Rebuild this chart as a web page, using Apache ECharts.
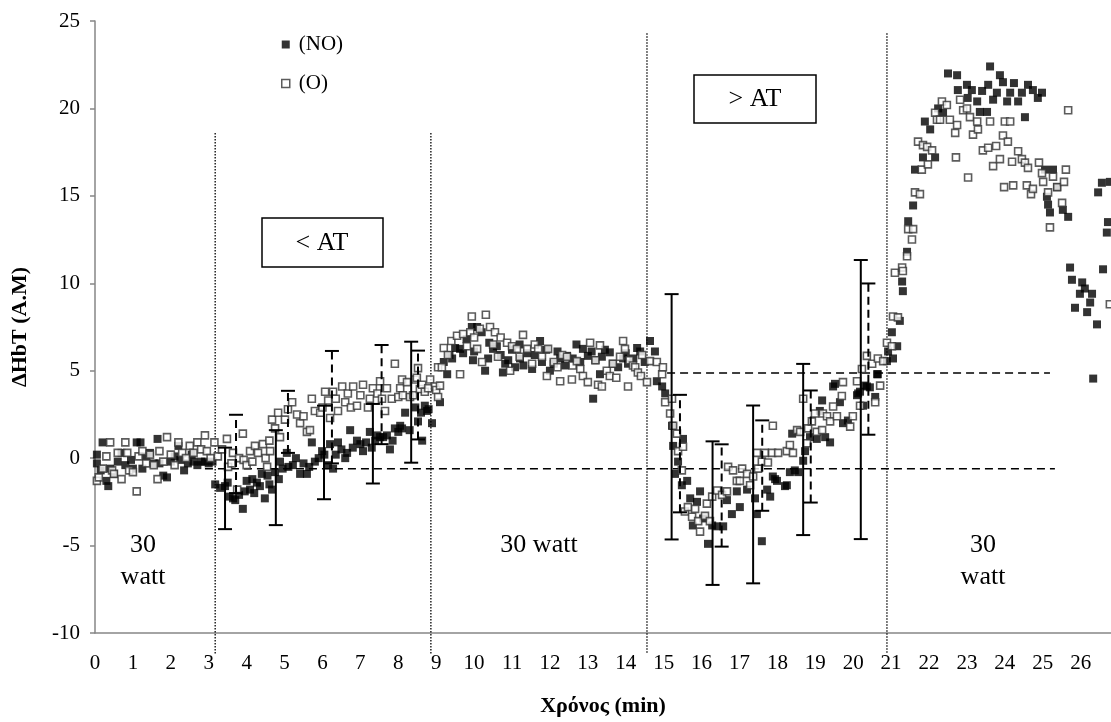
<!DOCTYPE html>
<html>
<head>
<meta charset="utf-8">
<script src="https://cdn.jsdelivr.net/npm/echarts@6/dist/echarts.min.js"></script>
<style>
  html, body { margin: 0; padding: 0; background: #fff; }
  #chart { width: 1111px; height: 722px; }
</style>
</head>
<body>
<div id="chart"></div>
<script>
// ΔHbT vs time, two groups. [min, value]
const noPoints = [
  [0.05,-0.3],[0.05,0.2],[0.15,-0.7],[0.2,0.9],[0.3,-1.3],[0.35,-1.6],[0.4,-0.6],[0.5,-0.9],[0.6,-0.2],[0.7,0.3],
  [0.8,-0.4],[0.95,-0.1],[1.0,-0.6],[1.1,0.9],[1.2,0.9],[1.25,-0.6],[1.35,0.1],[1.45,0.3],[1.55,-0.3],[1.65,1.1],
  [1.7,-0.3],[1.8,-1.0],[1.9,-1.1],[2.0,-0.2],[2.1,0.1],[2.2,0.7],[2.25,-0.1],[2.35,-0.7],[2.45,-0.3],[2.55,0.2],
  [2.6,-0.2],[2.7,-0.4],[2.8,-0.2],[2.9,-0.2],[3.0,-0.3],[3.1,-0.2],
  [3.17,-1.5],[3.3,-1.7],[3.43,-1.6],[3.5,-1.4],[3.55,-2.2],[3.64,-2.3],[3.7,-2.4],[3.8,-2.1],[3.9,-2.9],[3.95,-1.9],
  [4.0,-1.3],[4.09,-1.8],[4.15,-1.2],[4.2,-2.0],[4.27,-1.4],[4.35,-1.6],[4.4,-0.9],[4.48,-2.3],[4.55,-1.0],[4.6,-1.5],
  [4.67,-1.8],[4.75,-0.8],[4.85,-1.2],[4.88,-0.2],[4.95,-0.6],[5.06,0.3],[5.1,-0.5],[5.22,-0.4],[5.3,0.0],[5.41,-0.9],
  [5.5,-0.3],[5.59,-0.9],[5.65,-0.5],[5.72,0.9],[5.8,-0.2],[5.9,0.0],[5.99,0.4],[6.05,0.2],[6.15,-0.4],[6.2,0.8],
  [6.28,-0.6],[6.35,0.2],[6.41,0.9],[6.5,0.5],[6.6,0.0],[6.65,0.3],[6.73,1.6],[6.8,0.6],[6.91,1.0],[7.0,0.8],
  [7.07,0.4],[7.15,0.9],[7.25,1.5],[7.3,0.6],[7.39,1.0],[7.45,1.3],[7.52,1.2],[7.6,1.2],[7.7,1.3],[7.78,0.5],
  [7.85,1.0],[7.91,1.7],[8.0,1.5],[8.05,1.85],[8.1,1.7],[8.18,2.6],[8.3,1.6],[8.45,2.9],[8.52,2.1],[8.6,2.6],
  [8.63,1.0],[8.7,3.0],[8.76,2.7],[8.8,2.8],[8.89,2.0],
  [9.1,3.2],[9.2,5.5],[9.29,4.8],[9.35,5.9],[9.42,5.7],[9.5,6.3],[9.63,6.25],[9.71,6.0],[9.8,6.8],[9.94,7.5],
  [9.97,5.6],[10.0,6.1],[10.08,7.5],[10.2,7.2],[10.29,5.0],[10.37,5.7],[10.4,6.6],[10.5,6.25],[10.6,6.4],[10.7,5.9],
  [10.76,4.9],[10.82,5.4],[10.9,5.6],[11.0,6.2],[11.08,5.2],[11.2,6.5],[11.21,5.7],[11.3,5.3],[11.4,6.0],[11.53,5.1],
  [11.6,5.9],[11.74,6.7],[11.79,5.5],[11.9,6.2],[12.0,5.0],[12.1,5.4],[12.2,6.1],[12.27,5.7],[12.4,5.3],[12.45,5.85],
  [12.6,5.7],[12.7,6.5],[12.8,5.5],[12.87,6.25],[13.0,5.85],[13.1,6.1],[13.14,3.4],[13.2,5.6],[13.32,4.8],[13.37,5.8],
  [13.45,6.2],[13.58,6.05],[13.66,5.4],[13.8,5.2],[13.93,5.7],[14.0,6.0],[14.06,5.4],[14.2,5.7],[14.3,6.3],[14.38,6.1],
  [14.5,5.5],[14.64,6.7],[14.77,6.1],[14.82,4.4],[14.96,4.1],[15.04,3.7],
  [15.22,1.85],[15.25,0.7],[15.3,-0.9],[15.38,-0.2],[15.48,-1.55],[15.51,1.1],[15.62,-1.3],[15.7,-2.3],[15.77,-3.85],[15.88,-2.5],
  [15.96,-1.9],[16.04,-3.45],[16.17,-4.9],[16.28,-3.85],[16.41,-3.9],[16.57,-3.9],[16.67,-2.4],[16.8,-3.2],[16.93,-1.9],[17.01,-2.8],
  [17.2,-1.8],[17.41,-2.3],[17.46,-3.2],[17.59,-4.75],[17.73,-1.8],[17.81,-2.2],[17.88,-1.05],[17.94,-1.2],[17.99,-1.3],[18.2,-1.6],
  [18.25,-1.55],[18.33,-0.8],[18.39,1.4],[18.46,-0.7],[18.55,-0.8],[18.68,-0.15],[18.73,0.4],[18.86,1.2],[19.04,1.1],[19.12,2.7],
  [19.18,3.3],[19.26,1.2],[19.39,0.9],[19.47,4.1],[19.52,4.25],[19.65,3.2],[19.73,2.0],[19.86,2.15],[20.1,3.6],[20.13,3.7],
  [20.18,3.8],[20.26,3.0],[20.31,4.15],[20.36,4.1],[20.44,4.05],[20.58,3.5],[20.63,4.8],[20.65,4.8],[20.89,5.55],[20.92,6.1],
  [21.02,7.2],[21.05,5.7],[21.16,6.4],
  [21.23,7.85],[21.29,10.1],[21.31,9.55],[21.42,11.8],[21.45,13.55],[21.58,14.45],[21.63,16.5],[21.84,17.2],[21.89,19.25],[22.03,18.8],
  [22.16,17.2],[22.24,20.0],[22.37,19.75],[22.5,22.0],[22.74,21.9],[22.76,21.05],[23.0,21.35],[23.02,20.6],[23.13,21.05],[23.27,20.4],
  [23.34,19.8],[23.4,21.0],[23.53,19.8],[23.56,21.35],[23.61,22.4],[23.69,20.5],[23.79,20.9],[23.87,21.9],[23.95,21.5],[24.06,20.4],
  [24.14,20.9],[24.24,21.45],[24.35,20.4],[24.45,20.9],[24.53,19.5],[24.61,21.35],[24.74,21.05],[24.87,20.6],[24.98,20.9],[25.06,16.5],
  [25.11,14.95],[25.14,14.5],[25.19,14.05],[25.27,16.5],[25.38,15.5],[25.53,14.2],[25.67,13.8],[25.72,10.9],[25.77,10.2],[25.85,8.6],
  [25.98,9.4],[26.04,10.05],[26.11,9.7],[26.17,8.35],[26.25,8.9],[26.3,9.4],[26.33,4.55],[26.43,7.65],[26.46,15.2],[26.56,15.75],
  [26.59,10.8],[26.69,12.9],[26.72,13.5],[26.77,15.8]
];

const oPoints = [
  [0.05,-1.3],[0.1,-1.1],[0.2,-0.6],[0.3,0.1],[0.4,0.9],[0.45,-0.7],[0.5,-0.9],[0.6,0.3],[0.7,-1.2],[0.8,0.9],
  [0.85,0.3],[0.9,-0.7],[1.0,-0.8],[1.1,-1.9],[1.15,0.1],[1.25,0.4],[1.35,-0.3],[1.45,0.2],[1.55,-0.4],[1.65,-1.2],
  [1.7,0.4],[1.8,-0.2],[1.9,1.2],[2.0,0.2],[2.1,-0.4],[2.2,0.9],[2.3,0.3],[2.4,0.0],[2.5,0.7],[2.6,0.3],
  [2.7,0.9],[2.8,0.5],[2.9,1.3],[2.95,0.4],[3.05,0.0],[3.15,0.9],
  [3.24,0.1],[3.35,0.5],[3.48,1.1],[3.51,-0.5],[3.6,-0.3],[3.64,0.3],[3.75,-1.8],[3.8,0.0],[3.9,1.4],[3.92,-0.1],
  [4.0,-0.4],[4.09,0.4],[4.15,-0.2],[4.22,0.7],[4.3,0.3],[4.43,0.8],[4.5,0.0],[4.54,-0.5],[4.6,1.0],[4.62,0.4],
  [4.67,2.2],[4.75,1.7],[4.83,2.6],[4.88,1.2],[5.01,2.2],[5.09,2.8],[5.2,3.2],[5.33,2.5],[5.41,2.0],[5.5,2.4],
  [5.59,1.5],[5.67,1.6],[5.72,3.4],[5.8,2.7],[5.94,2.6],[6.0,2.9],[6.07,3.8],[6.15,3.3],[6.2,2.3],[6.28,3.8],
  [6.35,3.4],[6.41,2.7],[6.52,4.1],[6.6,3.2],[6.67,3.7],[6.75,2.9],[6.81,4.1],[6.91,3.0],[7.0,3.6],[7.07,4.2],
  [7.2,2.9],[7.25,3.4],[7.33,4.0],[7.45,3.7],[7.52,4.4],[7.57,3.4],[7.65,2.7],[7.7,4.0],[7.83,3.4],[7.91,5.4],
  [8.0,3.5],[8.05,4.0],[8.1,4.5],[8.12,3.6],[8.23,4.35],[8.31,3.5],[8.39,3.6],[8.45,4.5],[8.49,4.6],[8.52,5.15],
  [8.57,3.95],[8.63,4.2],[8.7,3.8],[8.79,4.0],[8.84,4.5],[8.97,4.1],[9.0,3.9],[9.05,5.2],[9.05,3.5],
  [9.1,4.15],[9.15,5.2],[9.2,6.3],[9.31,5.9],[9.4,6.7],[9.55,7.0],[9.63,4.8],[9.71,7.1],[9.81,6.4],[9.9,7.2],
  [9.94,8.1],[10.0,6.9],[10.08,6.25],[10.15,7.4],[10.21,5.5],[10.31,8.2],[10.42,7.5],[10.5,6.5],[10.55,7.2],[10.63,5.8],
  [10.7,6.9],[10.87,6.6],[10.95,5.0],[11.0,6.4],[11.13,6.25],[11.2,5.8],[11.29,7.05],[11.4,6.25],[11.53,5.4],[11.6,6.5],
  [11.69,6.25],[11.79,5.8],[11.92,4.7],[11.95,6.25],[12.1,5.5],[12.2,5.2],[12.27,4.4],[12.32,5.9],[12.45,5.8],[12.58,4.5],
  [12.6,5.3],[12.71,5.55],[12.8,5.1],[12.87,4.7],[13.0,4.35],[13.06,6.6],[13.2,5.6],[13.27,4.2],[13.32,6.45],[13.37,4.1],
  [13.5,5.0],[13.58,4.7],[13.66,5.4],[13.75,4.6],[13.85,5.8],[13.93,6.7],[13.98,6.25],[14.06,4.1],[14.1,5.6],[14.19,5.3],
  [14.25,5.2],[14.32,4.9],[14.4,4.7],[14.43,5.9],[14.56,4.35],[14.64,5.55],[14.82,5.5],[14.96,4.8],[14.98,5.2],
  [15.04,3.2],[15.17,2.55],[15.22,3.4],[15.25,1.85],[15.35,1.4],[15.38,0.4],[15.48,-0.7],[15.51,0.65],[15.56,-3.05],[15.64,-2.8],
  [15.75,-3.35],[15.83,-2.9],[15.91,-3.6],[15.96,-4.2],[16.09,-3.3],[16.14,-2.6],[16.22,-3.6],[16.28,-2.2],[16.41,-1.85],[16.54,-2.1],
  [16.67,-1.9],[16.7,-0.5],[16.83,-0.7],[16.93,-1.3],[17.01,-1.3],[17.07,-0.6],[17.2,-0.9],[17.28,-1.55],[17.36,-1.05],[17.46,0.3],
  [17.49,-0.6],[17.59,-0.2],[17.67,0.3],[17.75,-0.25],[17.86,0.3],[17.88,1.85],[18.02,0.3],[18.25,0.4],[18.33,0.75],[18.41,0.3],
  [18.52,1.6],[18.6,1.5],[18.68,3.4],[18.78,0.85],[18.81,1.7],[18.91,2.1],[18.99,2.55],[19.04,1.5],[19.18,1.6],[19.2,2.55],
  [19.31,2.4],[19.39,2.1],[19.47,2.95],[19.57,2.4],[19.7,3.55],[19.73,4.35],[19.92,1.8],[19.99,2.4],[20.1,4.4],[20.18,3.0],
  [20.23,5.1],[20.36,5.85],[20.5,5.4],[20.58,3.2],[20.65,5.7],[20.71,4.15],[20.79,5.55],[20.89,6.6],[21.02,6.4],
  [21.05,8.1],[21.1,10.6],[21.18,8.05],[21.29,10.9],[21.31,10.7],[21.42,11.55],[21.45,13.1],[21.55,12.5],[21.58,13.1],[21.63,15.2],
  [21.71,18.1],[21.76,15.1],[21.81,16.5],[21.84,17.9],[21.95,17.8],[21.97,16.8],[22.08,17.6],[22.16,19.75],[22.21,19.35],[22.29,19.35],
  [22.34,20.4],[22.47,20.2],[22.55,19.35],[22.69,18.6],[22.71,17.2],[22.74,19.05],[22.82,20.5],[22.9,19.9],[23.0,20.0],[23.03,16.05],
  [23.08,19.5],[23.16,18.5],[23.27,19.25],[23.29,18.8],[23.42,17.6],[23.56,17.75],[23.61,19.25],[23.69,16.7],[23.77,17.85],[23.87,17.1],
  [23.95,18.45],[23.98,15.5],[24.0,19.25],[24.08,18.1],[24.14,19.25],[24.19,16.95],[24.22,15.6],[24.35,17.55],[24.45,17.1],[24.53,16.9],
  [24.58,15.6],[24.61,16.6],[24.69,15.1],[24.74,15.4],[24.9,16.9],[24.98,16.3],[25.01,15.8],[25.14,15.2],[25.19,13.2],[25.27,16.1],
  [25.38,15.5],[25.51,14.6],[25.56,15.8],[25.61,16.5],[25.67,19.9],[26.77,8.8]
];

// error bars: [min, low, high]
const noErrors = [
  [3.43,-4.06,0.6],[4.77,-3.83,1.6],[6.04,-2.35,3.0],[7.33,-1.45,3.1],[8.34,-0.26,6.66],
  [15.21,-4.65,9.38],[16.29,-7.25,0.96],[17.36,-7.16,3.01],[18.68,-4.4,5.39],[20.2,-4.63,11.33]
];
const oErrors = [
  [3.72,-2.0,2.48],[5.09,0.3,3.85],[6.25,-0.3,6.13],[7.56,0.8,6.47],[8.52,1.07,6.15],
  [15.43,-3.1,3.62],[16.53,-5.06,0.79],[17.6,-3.01,2.16],[18.88,-2.54,3.87],[20.4,1.34,9.99]
];

// phase boundaries (dotted) and reference levels (dashed)
const phaseX = [3.17, 8.86, 14.56, 20.89];
const phaseTop = [18.6, 18.6, 24.3, 24.3];
const phaseBottom = [-11.2, -11.2, -11.2, -11.2];
const refLevel = [-0.6, 4.87];
const refStart = [2.9, 15.09];
const refEnd = [25.32, 25.19];

const SERIF = '"Liberation Serif", "Times New Roman", serif';

function errorBarRenderer(dashed) {
  return function (params, api) {
    const x = api.value(0);
    const lo = api.coord([x, api.value(1)]);
    const hi = api.coord([x, api.value(2)]);
    const half = 7;
    const cap = { stroke: '#000', lineWidth: 2 };
    return {
      type: 'group',
      children: [
        { type: 'line', shape: { x1: lo[0], y1: lo[1], x2: hi[0], y2: hi[1] },
          style: { stroke: '#000', lineWidth: 2, lineDash: dashed ? [8, 5] : null } },
        { type: 'line', shape: { x1: hi[0] - half, y1: hi[1], x2: hi[0] + half, y2: hi[1] }, style: cap },
        { type: 'line', shape: { x1: lo[0] - half, y1: lo[1], x2: lo[0] + half, y2: lo[1] }, style: cap }
      ]
    };
  };
}

function label(text, x, y) {
  return {
    type: 'text', z: 11,
    style: {
      text: text, x: x, y: y, fontSize: 26, fontFamily: SERIF, fill: '#000',
      align: 'center', verticalAlign: 'middle', textAlign: 'center', textVerticalAlign: 'middle'
    }
  };
}

const chart = echarts.init(document.getElementById('chart'));

chart.setOption({
  animation: false,
  backgroundColor: '#fff',
  grid: { left: 95, top: 21, right: 0, bottom: 87 },
  legend: {
    data: [
      { name: '(NO)', icon: 'rect', itemStyle: { color: '#000', borderWidth: 0 } },
      { name: '(O)', icon: 'rect', itemStyle: { color: '#fff', borderColor: '#333', borderWidth: 1.5 } }
    ],
    orient: 'vertical',
    left: 281,
    top: 34,
    padding: 0,
    itemWidth: 8,
    itemHeight: 8,
    itemGap: 18,
    textStyle: { fontFamily: SERIF, fontSize: 21, color: '#000', lineHeight: 20, padding: [0, 0, 0, 4] }
  },
  xAxis: {
    type: 'value',
    min: 0,
    max: 26.8,
    interval: 1,
    name: 'Χρόνος (min)',
    nameLocation: 'middle',
    nameGap: 62,
    nameTextStyle: { fontFamily: SERIF, fontSize: 22, fontWeight: 'bold', color: '#000' },
    axisLine: { show: true, onZero: false, lineStyle: { color: '#868686', width: 1.5 } },
    axisTick: { show: false },
    splitLine: { show: false },
    axisLabel: { fontFamily: SERIF, fontSize: 21, color: '#000', margin: 20, showMaxLabel: false }
  },
  yAxis: {
    type: 'value',
    min: -10,
    max: 25,
    interval: 5,
    name: 'ΔHbT (A.M)',
    nameLocation: 'middle',
    nameGap: 64,
    nameTextStyle: { fontFamily: SERIF, fontSize: 22, fontWeight: 'bold', color: '#000' },
    axisLine: { show: true, onZero: false, lineStyle: { color: '#868686', width: 1.5 } },
    axisTick: { show: true, length: 5, lineStyle: { color: '#868686', width: 1.5 } },
    splitLine: { show: false },
    axisLabel: { fontFamily: SERIF, fontSize: 21, color: '#000', margin: 15 }
  },
  series: [
    {
      name: 'phases',
      type: 'custom',
      data: phaseX.map((x, i) => [x, phaseTop[i], phaseBottom[i]]),
      encode: { x: 0, y: [1, 2] },
      silent: true,
      z: 1,
      renderItem: function (params, api) {
        const top = api.coord([api.value(0), api.value(1)]);
        const bot = api.coord([api.value(0), api.value(2)]);
        return {
          type: 'line',
          shape: { x1: top[0], y1: top[1], x2: bot[0], y2: bot[1] },
          style: { stroke: '#000', lineWidth: 1.3, lineDash: [1.5, 1.5] }
        };
      }
    },
    {
      name: 'levels',
      type: 'custom',
      data: refLevel.map((y, i) => [refStart[i], refEnd[i], y]),
      encode: { x: [0, 1], y: 2 },
      silent: true,
      z: 1,
      renderItem: function (params, api) {
        const a = api.coord([api.value(0), api.value(2)]);
        const b = api.coord([api.value(1), api.value(2)]);
        return {
          type: 'line',
          shape: { x1: a[0], y1: a[1], x2: b[0], y2: b[1] },
          style: { stroke: '#000', lineWidth: 1.5, lineDash: [8, 5] }
        };
      }
    },
    {
      name: '(NO)',
      type: 'scatter',
      data: noPoints,
      symbol: 'rect',
      symbolSize: 8,
      itemStyle: { color: '#000' },
      z: 2
    },
    {
      name: '(O)',
      type: 'scatter',
      data: oPoints,
      symbol: 'rect',
      symbolSize: 7,
      itemStyle: { color: '#fff', borderColor: '#333', borderWidth: 1.6 },
      z: 3
    },
    {
      name: 'NO error',
      type: 'custom',
      data: noErrors,
      encode: { x: 0, y: [1, 2] },
      silent: true,
      z: 4,
      renderItem: errorBarRenderer(false)
    },
    {
      name: 'O error',
      type: 'custom',
      data: oErrors,
      encode: { x: 0, y: [1, 2] },
      silent: true,
      z: 4,
      renderItem: errorBarRenderer(true)
    }
  ],
  graphic: [
    { type: 'rect', shape: { x: 262, y: 218, width: 121, height: 49 },
      style: { fill: '#fff', stroke: '#000', lineWidth: 1.5 }, z: 10 },
    label('< AT', 322, 243),
    { type: 'rect', shape: { x: 694, y: 75, width: 122, height: 48 },
      style: { fill: '#fff', stroke: '#000', lineWidth: 1.5 }, z: 10 },
    label('> AT', 755, 99),
    label('30', 143, 545),
    label('watt', 143, 577),
    label('30 watt', 539, 545),
    label('30', 983, 545),
    label('watt', 983, 577)
  ]
});
</script>
</body>
</html>
